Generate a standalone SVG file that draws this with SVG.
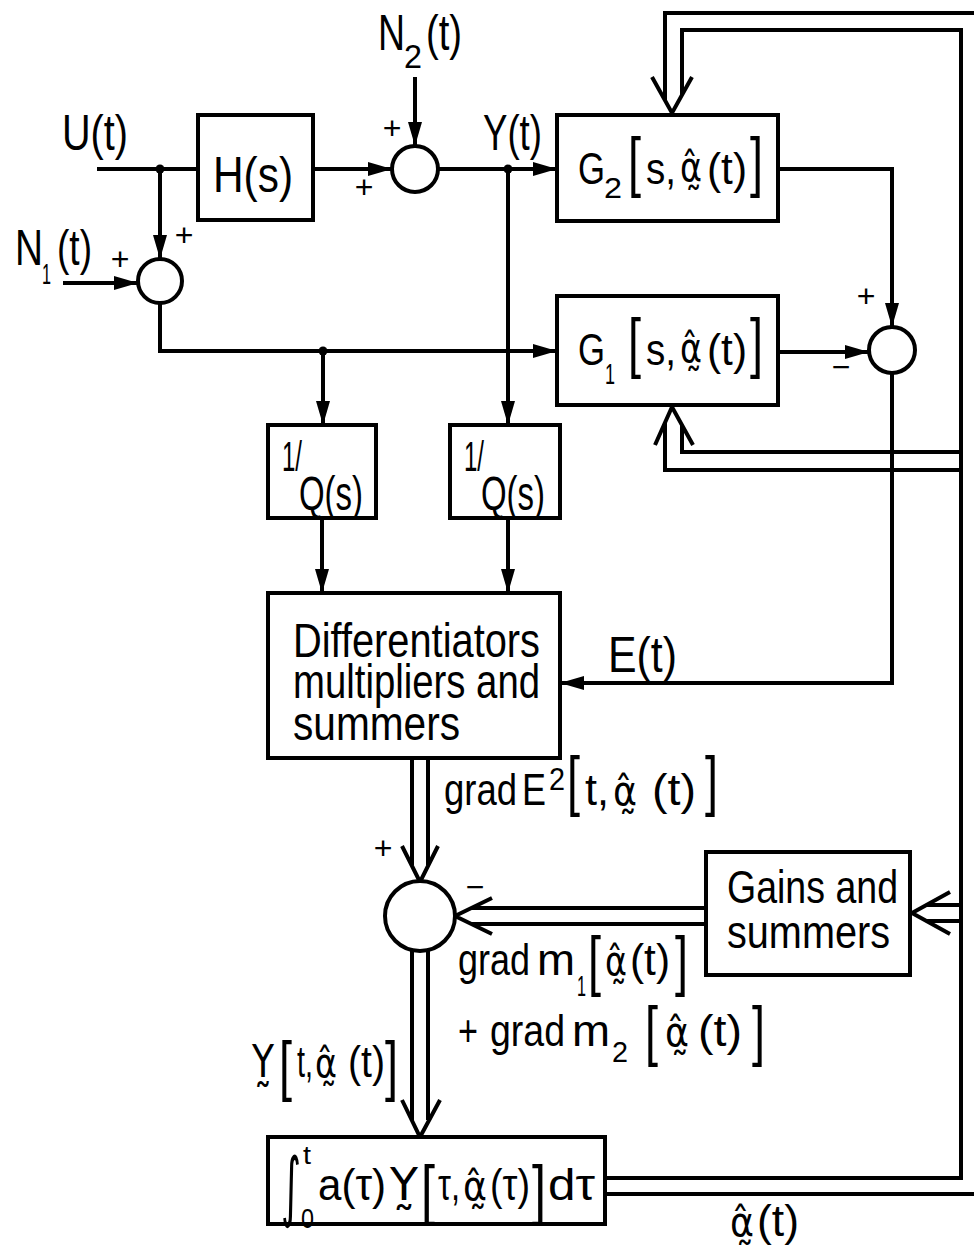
<svg xmlns="http://www.w3.org/2000/svg" width="974" height="1254" viewBox="0 0 974 1254">
<style>
.ln{stroke:#000;stroke-width:4;fill:none;stroke-linejoin:miter}
.bx{fill:#fff;stroke:#000;stroke-width:4}
.t{font-family:"Liberation Sans","DejaVu Sans",sans-serif;fill:#000}
.g{font-family:"DejaVu Sans",sans-serif}
.pm{font-family:"Liberation Sans",sans-serif;fill:#000;text-anchor:middle}
</style>
<defs>
<marker id="arr" markerUnits="userSpaceOnUse" markerWidth="26" markerHeight="16" refX="24" refY="8" orient="auto"><path d="M0,1 L24,8 L0,15 z" fill="#000"/></marker>
</defs>
<rect width="974" height="1254" fill="#fff"/>

<g id="connectors">
<path class="ln" d="M97,169 H198"/>
<path class="ln" d="M313,169 H392" marker-end="url(#arr)"/>
<path class="ln" d="M415,77 V146" marker-end="url(#arr)"/>
<path class="ln" d="M160,169 V259" marker-end="url(#arr)"/>
<path class="ln" d="M63,283 H138" marker-end="url(#arr)"/>
<path class="ln" d="M438,169 H557" marker-end="url(#arr)"/>
<path class="ln" d="M508,169 V425" marker-end="url(#arr)"/>
<path class="ln" d="M160,303 V351 H557" marker-end="url(#arr)"/>
<path class="ln" d="M323,351 V425" marker-end="url(#arr)"/>
<path class="ln" d="M322,518 V593" marker-end="url(#arr)"/>
<path class="ln" d="M508,518 V593" marker-end="url(#arr)"/>
<path class="ln" d="M778,169 H892 V327" marker-end="url(#arr)"/>
<path class="ln" d="M778,352 H869" marker-end="url(#arr)"/>
<path class="ln" d="M892,373 V683 H560" marker-end="url(#arr)"/>
<circle cx="160" cy="169" r="4.5"/>
<circle cx="508" cy="169" r="4.5"/>
<circle cx="323" cy="351" r="4.5"/>
<path class="ln" d="M665,100 V13 H974"/>
<path class="ln" d="M682,95 V30 H961 V1178 H605"/>
<path class="ln" d="M652,77 L672,113 L692,77"/>
<path class="ln" d="M665,423 V470 H961"/>
<path class="ln" d="M682,425 V452 H961"/>
<path class="ln" d="M655,445 L672,407 L693,445"/>
<path class="ln" d="M926,905 H961"/>
<path class="ln" d="M926,921 H961"/>
<path class="ln" d="M950,892 L912,913 L950,934"/>
<path class="ln" d="M412,758 V865"/>
<path class="ln" d="M428,758 V865"/>
<path class="ln" d="M402,846 L420,882 L438,846"/>
<path class="ln" d="M706,908 H471"/>
<path class="ln" d="M706,924 H471"/>
<path class="ln" d="M492,898 L455,916 L492,934"/>
<path class="ln" d="M412,950 V1120"/>
<path class="ln" d="M428,950 V1120"/>
<path class="ln" d="M402,1100 L420,1137 L440,1100"/>
<path class="ln" d="M605,1194 H974"/>
</g>

<g id="H">
<rect class="bx" x="198" y="115" width="115" height="105"/>
<text class="t" x="213" y="192" font-size="50" textLength="80" lengthAdjust="spacingAndGlyphs">H(s)</text>
</g>
<g id="sum1"><circle class="bx" cx="415" cy="169" r="23"/></g>
<g id="sum2"><circle class="bx" cx="160" cy="281" r="22"/></g>
<g id="sum3"><circle class="bx" cx="892" cy="350" r="23"/></g>
<g id="sum4"><circle class="bx" cx="420" cy="916" r="35"/></g>

<g id="G2">
<rect class="bx" x="557" y="115" width="221" height="106"/>
<text class="t" font-size="44"><tspan x="578" y="184" textLength="27" lengthAdjust="spacingAndGlyphs">G</tspan><tspan x="604" y="198" font-size="30" textLength="18" lengthAdjust="spacingAndGlyphs">2</tspan><tspan x="628" y="184" font-size="66" textLength="13" lengthAdjust="spacingAndGlyphs">[</tspan><tspan x="646" y="184" textLength="30" lengthAdjust="spacingAndGlyphs">s,</tspan><tspan class="g" x="680" y="181" font-size="40" textLength="22" lengthAdjust="spacingAndGlyphs">α̰̂</tspan><tspan x="707" y="184" textLength="40" lengthAdjust="spacingAndGlyphs">(t)</tspan><tspan x="750" y="184" font-size="66" textLength="13" lengthAdjust="spacingAndGlyphs">]</tspan></text>
</g>

<g id="G1">
<rect class="bx" x="557" y="296" width="221" height="109"/>
<text class="t" font-size="44"><tspan x="578" y="365" textLength="27" lengthAdjust="spacingAndGlyphs">G</tspan><tspan x="605" y="384" font-size="30" textLength="10" lengthAdjust="spacingAndGlyphs">1</tspan><tspan x="628" y="365" font-size="66" textLength="13" lengthAdjust="spacingAndGlyphs">[</tspan><tspan x="646" y="365" textLength="30" lengthAdjust="spacingAndGlyphs">s,</tspan><tspan class="g" x="680" y="362" font-size="40" textLength="22" lengthAdjust="spacingAndGlyphs">α̰̂</tspan><tspan x="707" y="365" textLength="40" lengthAdjust="spacingAndGlyphs">(t)</tspan><tspan x="750" y="365" font-size="66" textLength="13" lengthAdjust="spacingAndGlyphs">]</tspan></text>
</g>

<g id="Q1">
<rect class="bx" x="268" y="425" width="108" height="93"/>
<text class="t"><tspan x="282" y="471" font-size="42" textLength="20" lengthAdjust="spacingAndGlyphs">1/</tspan><tspan x="299" y="510" font-size="48" textLength="64" lengthAdjust="spacingAndGlyphs">Q(s)</tspan></text>
</g>
<g id="Q2">
<rect class="bx" x="450" y="425" width="110" height="93"/>
<text class="t"><tspan x="464" y="471" font-size="42" textLength="20" lengthAdjust="spacingAndGlyphs">1/</tspan><tspan x="481" y="510" font-size="48" textLength="64" lengthAdjust="spacingAndGlyphs">Q(s)</tspan></text>
</g>

<g id="diff">
<rect class="bx" x="268" y="593" width="292" height="165"/>
<text class="t" font-size="48"><tspan x="293" y="657" textLength="247" lengthAdjust="spacingAndGlyphs">Differentiators</tspan><tspan x="293" y="698" textLength="247" lengthAdjust="spacingAndGlyphs">multipliers and</tspan><tspan x="293" y="740" textLength="167" lengthAdjust="spacingAndGlyphs">summers</tspan></text>
</g>

<g id="gains">
<rect class="bx" x="706" y="852" width="204" height="123"/>
<text class="t" font-size="46"><tspan x="727" y="903" textLength="171" lengthAdjust="spacingAndGlyphs">Gains and</tspan><tspan x="727" y="948" textLength="163" lengthAdjust="spacingAndGlyphs">summers</tspan></text>
</g>

<g id="integrator">
<rect class="bx" x="268" y="1137" width="337" height="87"/>
<text class="t" font-size="44"><tspan class="g" x="281" y="1212" font-size="76" textLength="20" lengthAdjust="spacingAndGlyphs">∫</tspan><tspan x="303" y="1164" font-size="26" textLength="8" lengthAdjust="spacingAndGlyphs">t</tspan><tspan x="301" y="1228" font-size="28" textLength="13" lengthAdjust="spacingAndGlyphs">0</tspan><tspan x="318" y="1200" textLength="68" lengthAdjust="spacingAndGlyphs">a(τ)</tspan><tspan class="g" x="390" y="1200" textLength="28" lengthAdjust="spacingAndGlyphs">Y̰</tspan><tspan x="421" y="1212" font-size="66" textLength="14" lengthAdjust="spacingAndGlyphs">[</tspan><tspan x="438" y="1200" textLength="22" lengthAdjust="spacingAndGlyphs">τ,</tspan><tspan class="g" x="463" y="1200" font-size="40" textLength="24" lengthAdjust="spacingAndGlyphs">α̰̂</tspan><tspan x="490" y="1200" textLength="40" lengthAdjust="spacingAndGlyphs">(τ)</tspan><tspan x="532" y="1212" font-size="66" textLength="14" lengthAdjust="spacingAndGlyphs">]</tspan><tspan x="548" y="1200" textLength="47" lengthAdjust="spacingAndGlyphs">dτ</tspan></text>
</g>

<g id="labels">
<text class="t" x="62" y="150" font-size="50" textLength="66" lengthAdjust="spacingAndGlyphs">U(t)</text>
<text class="t" font-size="50"><tspan x="378" y="50" textLength="27" lengthAdjust="spacingAndGlyphs">N</tspan><tspan x="404" y="68" font-size="34" textLength="18" lengthAdjust="spacingAndGlyphs">2</tspan><tspan x="426" y="50" textLength="36" lengthAdjust="spacingAndGlyphs">(t)</tspan></text>
<text class="t" font-size="50"><tspan x="15" y="265" textLength="28" lengthAdjust="spacingAndGlyphs">N</tspan><tspan x="42" y="284" font-size="30" textLength="9" lengthAdjust="spacingAndGlyphs">1</tspan><tspan x="57" y="265" textLength="35" lengthAdjust="spacingAndGlyphs">(t)</tspan></text>
<text class="t" x="483" y="150" font-size="50" textLength="59" lengthAdjust="spacingAndGlyphs">Y(t)</text>
<text class="t" x="608" y="672" font-size="50" textLength="69" lengthAdjust="spacingAndGlyphs">E(t)</text>
<text class="pm" x="392" y="139" font-size="32">+</text>
<text class="pm" x="364" y="198" font-size="32">+</text>
<text class="pm" x="184" y="246" font-size="32">+</text>
<text class="pm" x="120" y="270" font-size="32">+</text>
<text class="pm" x="866" y="307" font-size="32">+</text>
<text class="pm" x="383" y="859" font-size="32">+</text>
<text class="pm" x="841" y="378" font-size="32">−</text>
<text class="pm" x="475" y="898" font-size="32">−</text>
<text class="t" font-size="44"><tspan x="444" y="805" textLength="73" lengthAdjust="spacingAndGlyphs">grad</tspan><tspan x="522" y="805" textLength="24" lengthAdjust="spacingAndGlyphs">E</tspan><tspan x="549" y="790" font-size="32" textLength="16" lengthAdjust="spacingAndGlyphs">2</tspan><tspan x="567" y="803" font-size="66" textLength="13" lengthAdjust="spacingAndGlyphs">[</tspan><tspan x="585" y="805" textLength="24" lengthAdjust="spacingAndGlyphs">t,</tspan><tspan class="g" x="613" y="805" font-size="40" textLength="24" lengthAdjust="spacingAndGlyphs">α̰̂</tspan><tspan x="652" y="805" textLength="44" lengthAdjust="spacingAndGlyphs">(t)</tspan><tspan x="705" y="803" font-size="66" textLength="13" lengthAdjust="spacingAndGlyphs">]</tspan></text>
<text class="t" font-size="44"><tspan x="458" y="975" textLength="72" lengthAdjust="spacingAndGlyphs">grad</tspan><tspan x="537" y="975" textLength="38" lengthAdjust="spacingAndGlyphs">m</tspan><tspan x="577" y="996" font-size="30" textLength="9" lengthAdjust="spacingAndGlyphs">1</tspan><tspan x="588" y="983" font-size="66" textLength="13" lengthAdjust="spacingAndGlyphs">[</tspan><tspan class="g" x="605" y="975" font-size="40" textLength="22" lengthAdjust="spacingAndGlyphs">α̰̂</tspan><tspan x="630" y="975" textLength="40" lengthAdjust="spacingAndGlyphs">(t)</tspan><tspan x="675" y="983" font-size="66" textLength="13" lengthAdjust="spacingAndGlyphs">]</tspan></text>
<text class="t" font-size="44"><tspan x="458" y="1046" textLength="20" lengthAdjust="spacingAndGlyphs">+</tspan><tspan x="490" y="1046" textLength="75" lengthAdjust="spacingAndGlyphs">grad</tspan><tspan x="572" y="1046" textLength="38" lengthAdjust="spacingAndGlyphs">m</tspan><tspan x="612" y="1062" font-size="30" textLength="16" lengthAdjust="spacingAndGlyphs">2</tspan><tspan x="645" y="1053" font-size="66" textLength="13" lengthAdjust="spacingAndGlyphs">[</tspan><tspan class="g" x="665" y="1046" font-size="40" textLength="24" lengthAdjust="spacingAndGlyphs">α̰̂</tspan><tspan x="698" y="1046" textLength="44" lengthAdjust="spacingAndGlyphs">(t)</tspan><tspan x="752" y="1053" font-size="66" textLength="13" lengthAdjust="spacingAndGlyphs">]</tspan></text>
<text class="t" font-size="44"><tspan class="g" x="252" y="1077" textLength="22" lengthAdjust="spacingAndGlyphs">Y̰</tspan><tspan x="279" y="1088" font-size="66" textLength="13" lengthAdjust="spacingAndGlyphs">[</tspan><tspan x="297" y="1077" textLength="16" lengthAdjust="spacingAndGlyphs">t,</tspan><tspan class="g" x="315" y="1077" font-size="40" textLength="22" lengthAdjust="spacingAndGlyphs">α̰̂</tspan><tspan x="348" y="1077" textLength="37" lengthAdjust="spacingAndGlyphs">(t)</tspan><tspan x="385" y="1088" font-size="66" textLength="13" lengthAdjust="spacingAndGlyphs">]</tspan></text>
<text class="t" font-size="44"><tspan class="g" x="730" y="1236" font-size="40" textLength="24" lengthAdjust="spacingAndGlyphs">α̰̂</tspan><tspan x="757" y="1236" textLength="42" lengthAdjust="spacingAndGlyphs">(t)</tspan></text>
</g>
</svg>
